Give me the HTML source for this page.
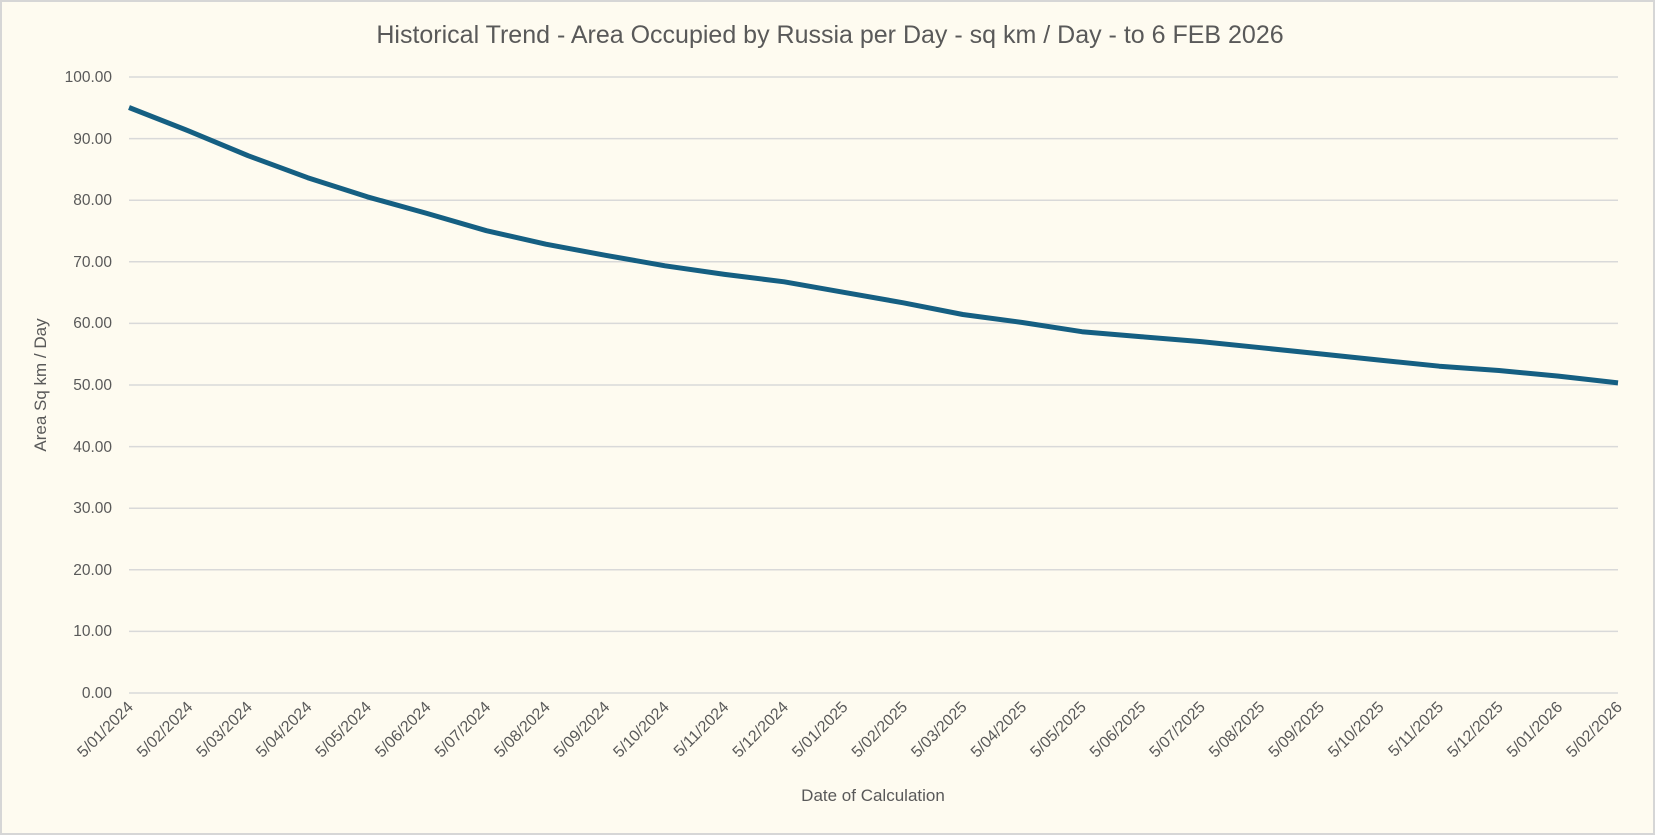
<!DOCTYPE html>
<html><head><meta charset="utf-8"><style>
html,body{margin:0;padding:0;background:#fefbf0;}
svg{display:block;}
text{font-family:"Liberation Sans",sans-serif;fill:#595959;}
</style></head><body>
<svg width="1655" height="835" viewBox="0 0 1655 835" xmlns="http://www.w3.org/2000/svg">
<rect x="1" y="1" width="1653" height="833" fill="#fefbf0" stroke="#d6d6d6" stroke-width="2"/>
<text x="830" y="43" text-anchor="middle" font-size="25">Historical Trend - Area Occupied by Russia per Day - sq km / Day - to 6 FEB 2026</text>
<g stroke="#d9d9d9" stroke-width="1.5">
<line x1="129" x2="1618" y1="77" y2="77"/>
<line x1="129" x2="1618" y1="138.6" y2="138.6"/>
<line x1="129" x2="1618" y1="200.2" y2="200.2"/>
<line x1="129" x2="1618" y1="261.8" y2="261.8"/>
<line x1="129" x2="1618" y1="323.4" y2="323.4"/>
<line x1="129" x2="1618" y1="385" y2="385"/>
<line x1="129" x2="1618" y1="446.6" y2="446.6"/>
<line x1="129" x2="1618" y1="508.2" y2="508.2"/>
<line x1="129" x2="1618" y1="569.8" y2="569.8"/>
<line x1="129" x2="1618" y1="631.4" y2="631.4"/>
<line x1="129" x2="1618" y1="693" y2="693"/>
</g>
<g font-size="15.5" text-anchor="end">
<text x="112" y="82">100.00</text>
<text x="112" y="144">90.00</text>
<text x="112" y="205">80.00</text>
<text x="112" y="267">70.00</text>
<text x="112" y="328">60.00</text>
<text x="112" y="390">50.00</text>
<text x="112" y="452">40.00</text>
<text x="112" y="513">30.00</text>
<text x="112" y="575">20.00</text>
<text x="112" y="636">10.00</text>
<text x="112" y="698">0.00</text>
</g>
<text transform="translate(46,385) rotate(-90)" text-anchor="middle" font-size="17">Area Sq km / Day</text>
<text x="873" y="801" text-anchor="middle" font-size="17">Date of Calculation</text>
<polyline fill="none" stroke="#155f82" stroke-width="5" stroke-linejoin="round" stroke-linecap="butt" points="129,107.5 188.6,130.9 248.1,155.7 307.7,177.7 367.2,196.8 426.8,213.4 486.4,230.7 545.9,244.2 605.5,255.3 665,265.8 724.6,274.4 784.2,281.8 843.7,292.3 903.3,302.8 962.8,314.5 1022.4,322.5 1082,331.7 1141.5,336.7 1201.1,341.6 1260.6,347.7 1320.2,353.9 1379.8,360.1 1439.3,366.2 1498.9,370.5 1558.4,376.1 1618,382.9"/>
<g font-size="16" text-anchor="end">
<text transform="translate(134,708) rotate(-45)">5/01/2024</text>
<text transform="translate(193.6,708) rotate(-45)">5/02/2024</text>
<text transform="translate(253.1,708) rotate(-45)">5/03/2024</text>
<text transform="translate(312.7,708) rotate(-45)">5/04/2024</text>
<text transform="translate(372.2,708) rotate(-45)">5/05/2024</text>
<text transform="translate(431.8,708) rotate(-45)">5/06/2024</text>
<text transform="translate(491.4,708) rotate(-45)">5/07/2024</text>
<text transform="translate(550.9,708) rotate(-45)">5/08/2024</text>
<text transform="translate(610.5,708) rotate(-45)">5/09/2024</text>
<text transform="translate(670,708) rotate(-45)">5/10/2024</text>
<text transform="translate(729.6,708) rotate(-45)">5/11/2024</text>
<text transform="translate(789.2,708) rotate(-45)">5/12/2024</text>
<text transform="translate(848.7,708) rotate(-45)">5/01/2025</text>
<text transform="translate(908.3,708) rotate(-45)">5/02/2025</text>
<text transform="translate(967.8,708) rotate(-45)">5/03/2025</text>
<text transform="translate(1027.4,708) rotate(-45)">5/04/2025</text>
<text transform="translate(1087,708) rotate(-45)">5/05/2025</text>
<text transform="translate(1146.5,708) rotate(-45)">5/06/2025</text>
<text transform="translate(1206.1,708) rotate(-45)">5/07/2025</text>
<text transform="translate(1265.6,708) rotate(-45)">5/08/2025</text>
<text transform="translate(1325.2,708) rotate(-45)">5/09/2025</text>
<text transform="translate(1384.8,708) rotate(-45)">5/10/2025</text>
<text transform="translate(1444.3,708) rotate(-45)">5/11/2025</text>
<text transform="translate(1503.9,708) rotate(-45)">5/12/2025</text>
<text transform="translate(1563.4,708) rotate(-45)">5/01/2026</text>
<text transform="translate(1623,708) rotate(-45)">5/02/2026</text>
</g>
</svg>
</body></html>
